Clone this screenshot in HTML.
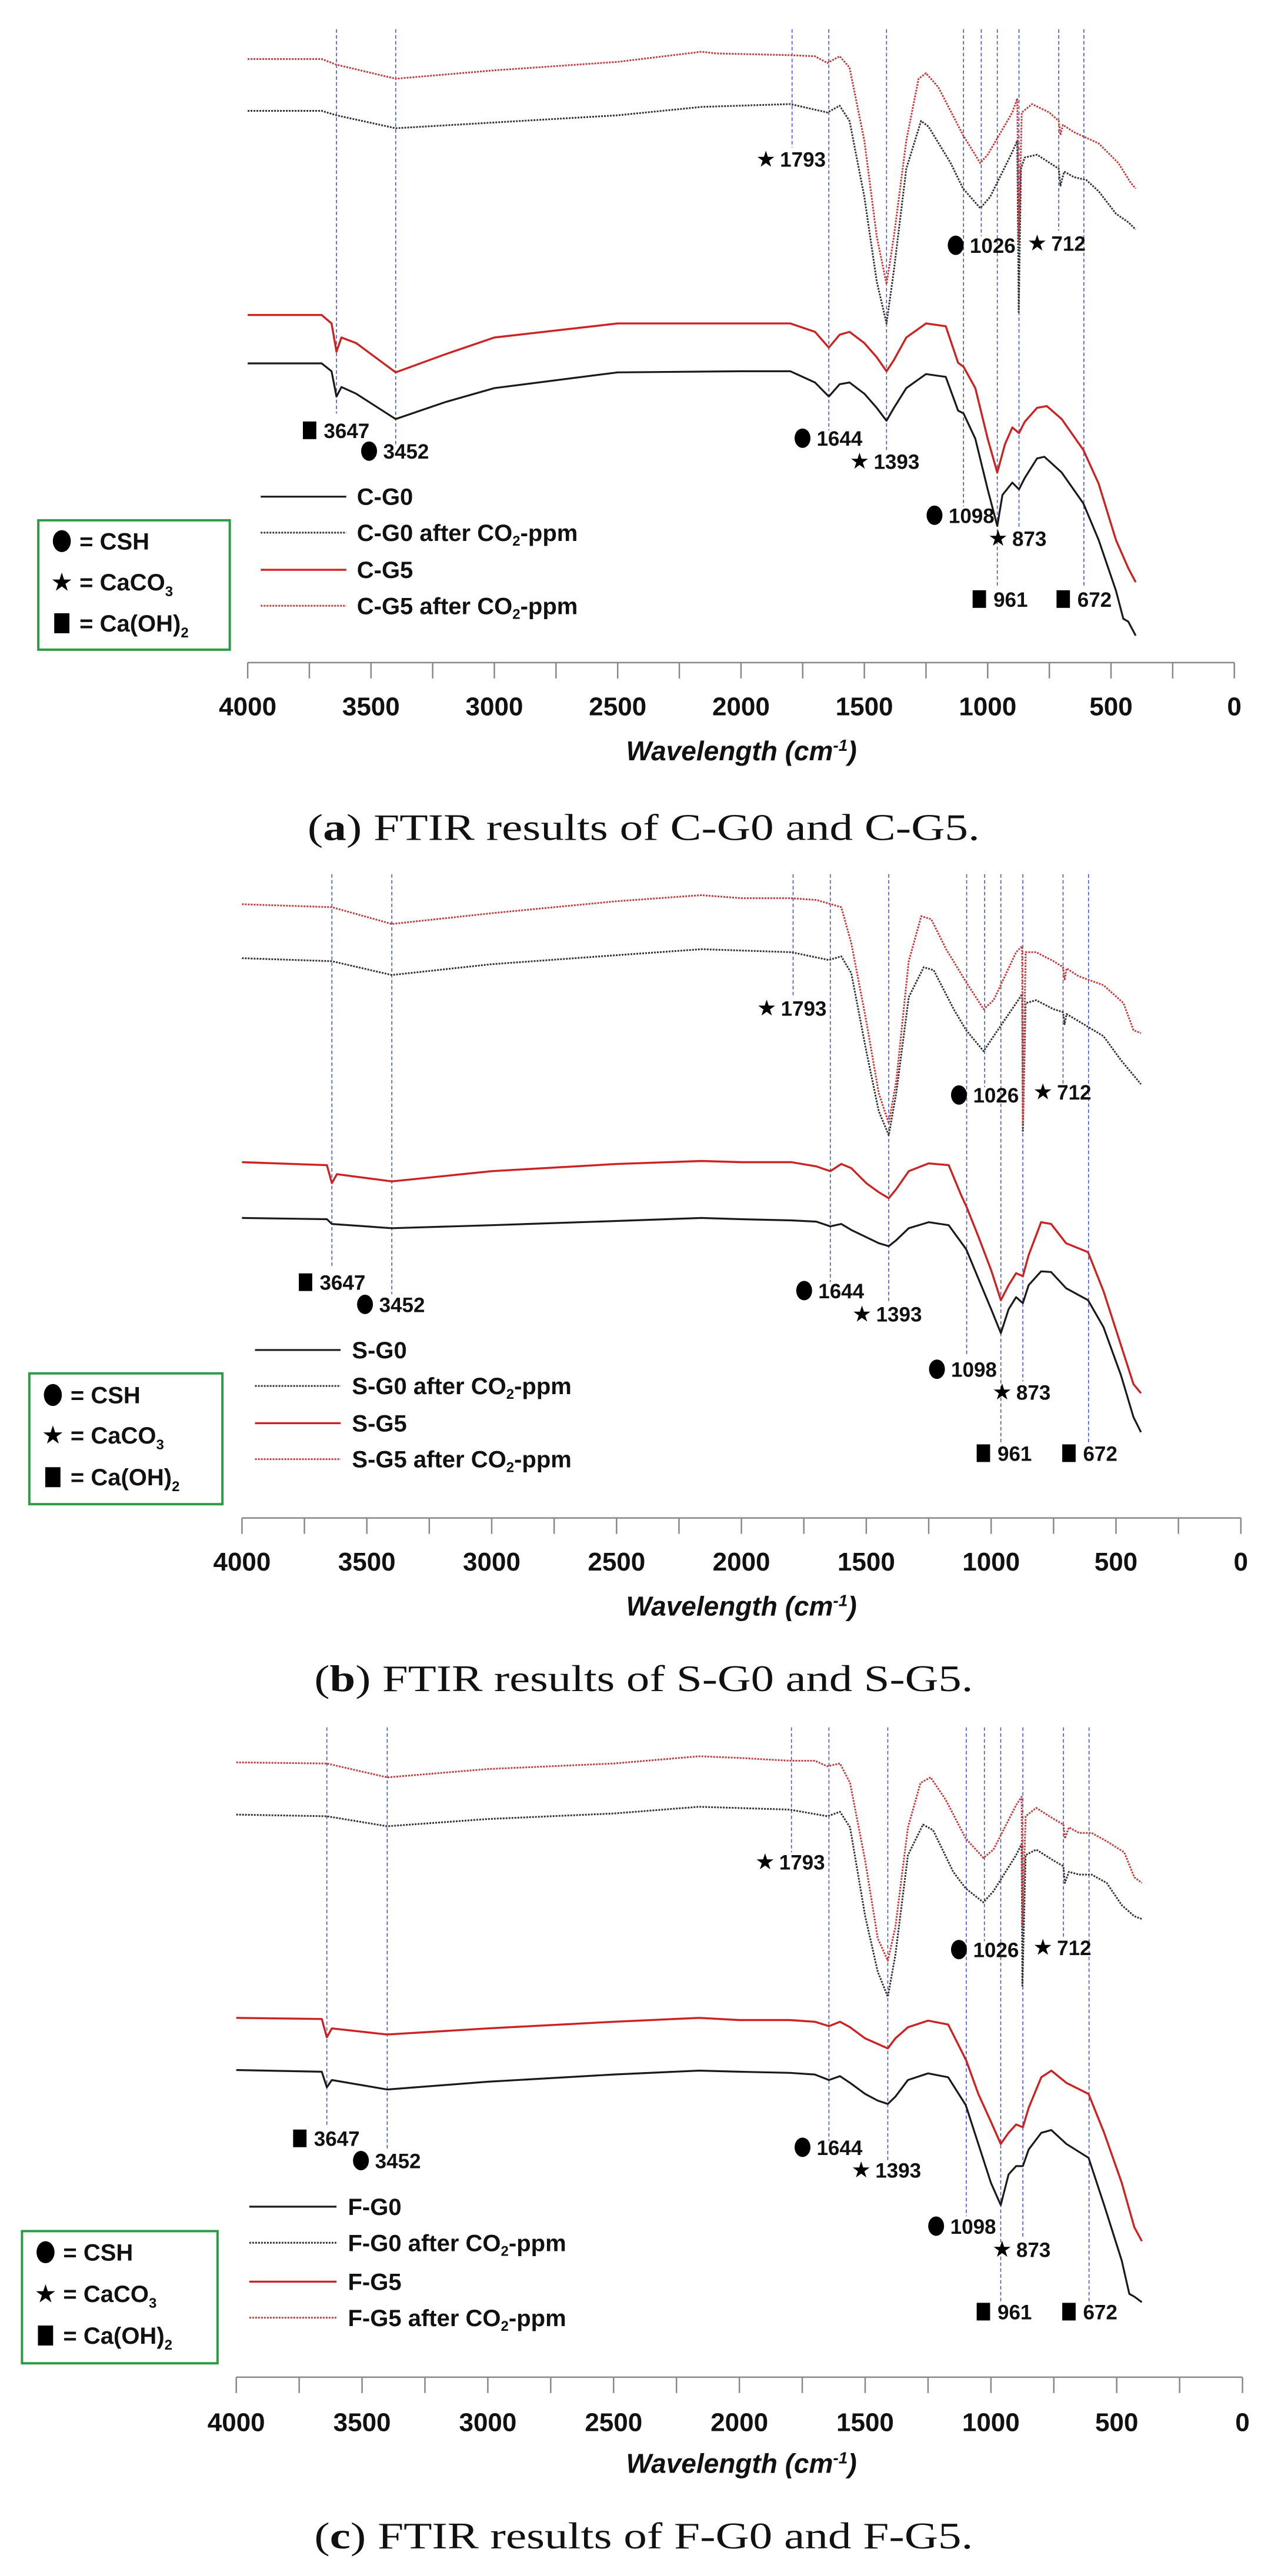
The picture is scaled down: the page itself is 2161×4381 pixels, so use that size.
<!DOCTYPE html>
<html><head><meta charset="utf-8"><style>
html,body{margin:0;padding:0;background:#fff}
svg{display:block}
</style></head><body>
<svg id="fig" xmlns="http://www.w3.org/2000/svg" width="2161" height="4381" viewBox="0 0 2161 4381">
<rect width="2161" height="4381" fill="#fff"/>
</svg>
<script>
// ---- data: wavenumber (cm-1) and relative signal offset (a.u., larger = lower on plot) ----
const tickLabels = [4000,3500,3000,2500,2000,1500,1000,500,0];
const minorTicks = [3750,3250,2750,2250,1750,1250,750,250];
const peakLines = [3640,3400,1793,1644,1410,1098,1026,961,873,712,610];

const aRedDot = [[4000,105],[3700,105],[3640,115],[3400,140],[3000,125],[2500,110],[2160,92],[2100,95],[1800,98],[1700,100],[1650,112],[1600,100],[1560,120],[1500,250],[1450,420],[1410,505],[1380,420],[1330,250],[1280,140],[1250,130],[1200,155],[1100,240],[1030,290],[1000,275],[900,200],[880,175],[874,430],[862,200],[820,185],[750,200],[712,215],[705,240],[695,222],[650,235],[550,255],[470,290],[420,325],[400,335]];
const aBlkDot = [[4000,197],[3700,197],[3640,205],[3400,228],[2500,205],[2160,190],[1800,185],[1650,200],[1600,188],[1560,215],[1500,350],[1450,500],[1410,575],[1380,480],[1330,300],[1270,215],[1240,225],[1150,290],[1100,335],[1030,370],[990,350],[900,270],[880,250],[874,555],[865,300],[850,280],[800,275],[712,300],[705,330],[690,305],[650,315],[600,320],[550,340],[480,380],[430,395],[400,408]];
const aRed = [[4000,560],[3700,560],[3660,575],[3640,625],[3620,600],[3560,610],[3400,662],[3200,630],[3000,600],[2500,575],[2000,575],[1800,575],[1700,590],[1644,618],[1600,595],[1560,590],[1500,610],[1450,635],[1410,660],[1380,640],[1330,600],[1250,575],[1170,580],[1120,645],[1098,652],[1050,690],[1000,780],[961,840],[930,790],[900,760],[873,770],[850,750],[800,725],[760,722],[700,745],[612,800],[550,860],[480,960],[430,1010],[400,1035]];
const aBlk = [[4000,646],[3700,646],[3660,660],[3640,705],[3620,688],[3560,700],[3400,745],[3200,715],[3000,690],[2500,662],[2000,660],[1800,660],[1700,680],[1644,705],[1600,683],[1560,680],[1500,700],[1450,725],[1410,748],[1380,725],[1330,690],[1250,665],[1170,670],[1120,730],[1098,735],[1050,780],[1000,870],[961,935],[940,880],[900,858],[873,870],[850,850],[800,815],[770,812],[700,840],[612,895],[550,960],[480,1050],[450,1100],[430,1105],[400,1130]];

const bRedDot = [[4000,135],[3640,140],[3400,168],[3000,150],[2500,130],[2160,120],[2000,125],[1800,125],[1700,128],[1640,135],[1600,140],[1560,200],[1500,330],[1450,450],[1410,500],[1380,430],[1330,230],[1280,155],[1240,160],[1180,210],[1100,265],[1030,310],[990,295],[900,215],[876,205],[873,500],[862,215],[820,215],[750,230],[712,240],[706,262],[698,242],[650,255],[550,270],[470,300],[430,345],[400,350]];
const bBlkDot = [[4000,225],[3640,230],[3400,253],[3000,235],[2500,220],[2160,210],[1800,215],[1650,228],[1600,222],[1560,250],[1500,380],[1450,480],[1410,520],[1380,450],[1330,290],[1270,240],[1230,245],[1150,310],[1100,345],[1030,380],[990,355],[900,300],[876,285],[873,515],[862,300],[820,295],[750,310],[712,315],[706,335],[698,318],[650,330],[550,355],[480,395],[430,420],[400,435]];
const bRed = [[4000,565],[3660,570],[3640,600],[3620,585],[3400,597],[3000,580],[2500,568],[2160,563],[2000,565],[1800,565],[1700,572],[1644,580],[1600,568],[1560,575],[1500,600],[1450,615],[1410,625],[1380,610],[1330,580],[1250,567],[1170,570],[1120,620],[1098,640],[1050,690],[1000,745],[961,795],[930,770],[900,750],[873,755],[850,720],[800,665],[760,668],[700,700],[612,715],[550,780],[480,870],[430,935],[400,950]];
const bBlk = [[4000,658],[3660,660],[3640,668],[3400,675],[3000,670],[2500,663],[2160,658],[2000,660],[1800,662],[1700,664],[1644,672],[1600,668],[1560,678],[1500,690],[1450,700],[1410,705],[1380,695],[1330,675],[1250,665],[1170,670],[1100,710],[1050,760],[1000,810],[961,850],[930,810],[900,790],[873,800],[850,770],[800,747],[760,748],[700,775],[612,795],[550,840],[480,920],[430,990],[400,1015]];

const cRedDot = [[4000,103],[3640,105],[3400,130],[3000,115],[2500,105],[2160,92],[2000,95],[1800,100],[1700,100],[1650,110],[1600,105],[1560,140],[1500,280],[1450,420],[1410,460],[1380,400],[1330,220],[1280,140],[1240,130],[1180,170],[1100,240],[1030,275],[990,260],[900,180],[878,165],[875,400],[862,200],[820,185],[750,205],[712,215],[706,240],[690,220],[650,230],[600,230],[540,245],[470,265],[430,310],[400,320]];
const cBlkDot = [[4000,197],[3640,200],[3400,218],[3000,205],[2500,195],[2160,183],[1800,188],[1650,200],[1600,192],[1560,220],[1500,380],[1450,480],[1410,525],[1380,450],[1330,270],[1270,215],[1230,225],[1150,300],[1100,330],[1030,355],[990,335],[900,270],[878,250],[875,505],[862,270],[820,260],[750,280],[712,290],[706,320],[690,300],[650,305],[600,305],[540,320],[480,360],[430,380],[400,385]];
const cRed = [[4000,563],[3660,565],[3640,598],[3620,582],[3400,593],[3000,582],[2500,570],[2160,563],[2000,567],[1800,567],[1700,570],[1644,578],[1600,570],[1560,580],[1500,600],[1450,610],[1410,618],[1380,600],[1330,580],[1250,568],[1170,575],[1120,620],[1098,640],[1050,700],[1000,750],[961,790],[930,770],[900,755],[873,760],[850,725],[800,670],[760,658],[700,680],[612,700],[550,770],[480,860],[430,940],[400,965]];
const cBlk = [[4000,657],[3660,660],[3640,688],[3620,675],[3400,692],[3000,678],[2500,665],[2160,658],[2000,660],[1800,662],[1700,665],[1644,675],[1600,668],[1560,680],[1500,700],[1450,712],[1410,718],[1380,705],[1330,675],[1250,663],[1170,670],[1100,720],[1050,790],[1000,860],[961,900],[930,845],[900,830],[873,830],[850,800],[800,770],[760,765],[700,790],[612,815],[550,900],[480,1000],[450,1060],[430,1065],[400,1075]];

const annoLabels = ['3647','3452','1793','1644','1393','1098','1026','712','873','961','672'];
const annoKinds = ['sq','ci','st','ci','st','ci','ci','st','st','sq','sq'];
</script>
<script>
const NS='http://www.w3.org/2000/svg';
const svg=document.getElementById('fig');
const K=2161/1560;
function mk(tag,attrs,parent){const e=document.createElementNS(NS,tag);for(const k in attrs)e.setAttribute(k,attrs[k]);(parent||svg).appendChild(e);return e;}

const panels=[
 {id:'a',oy:0,f:1500/1568,zx0:304,zx1:1515,axis:1178,tick:1255,title:1335,cap:1470,capW:1143,lineTop:52,
  lineEnd:[735,790,262,765,800,900,420,1045,940,410,1045],
  anno:[[380,765],[453,802],[940,283],[985,779],[1055,820],[1147,916],[1173,436],[1273,432],[1225,957],[1202,1065],[1305,1065]],
  leg:[883,947,1013,1077],legX:[320,425,438],box:[47,925,282,1155],boxE:[962,1035,1108],s:'C',series:[aBlk,aBlkDot,aRed,aRedDot]},
 {id:'b',oy:1400,f:1600/1568,zx0:297,zx1:1523,axis:1158,tick:1230,title:1305,cap:1425,capW:1120,lineTop:85,
  lineEnd:[740,785,290,765,800,885,440,1035,930,435,1035],
  anno:[[375,765],[448,802],[941,308],[987,779],[1058,818],[1150,910],[1177,453],[1280,448],[1230,948],[1207,1050],[1312,1050]],
  leg:[878,938,1000,1060],legX:[313,418,432],box:[36,917,273,1135],boxE:[953,1020,1090],s:'S',series:[bBlk,bBlkDot,bRed,bRedDot]},
 {id:'c',oy:2900,f:1481/1568,zx0:290,zx1:1525,axis:1210,tick:1290,title:1365,cap:1495,capW:1120,lineTop:40,
  lineEnd:[760,800,265,785,820,920,425,1075,960,420,1075],
  anno:[[368,780],[443,820],[939,282],[985,796],[1057,837],[1149,938],[1177,440],[1280,436],[1230,980],[1207,1092],[1312,1092]],
  leg:[903,968,1038,1103],legX:[306,413,427],box:[27,947,267,1185],boxE:[985,1060,1135],s:'F',series:[cBlk,cBlkDot,cRed,cRedDot]}
];

function symbol(kind,cx,cy,sz,g){
  let e;
  if(kind==='ci'){e=mk('ellipse',{cx:cx,cy:cy,rx:sz*0.45,ry:sz*0.55,fill:'#000'},g);}
  else if(kind==='sq'){e=mk('rect',{x:cx-sz*0.38,y:cy-sz*0.5,width:sz*0.76,height:sz,fill:'#000'},g);}
  else{e=mk('text',{x:cx,y:cy+sz*0.42,'text-anchor':'middle','font-size':sz*1.25,'font-family':'DejaVu Sans, sans-serif',fill:'#000'},g);e.textContent='★';}
  return e;
}

panels.forEach(p=>{
  const X=z=>z*K, Y=z=>p.oy+z*p.f;
  const xS=w=>X(p.zx0)+(4000-w)/4000*(X(p.zx1)-X(p.zx0));
  const yS=v=>Y(v);
  const g=mk('g',{});
  
  
  peakLines.forEach((w,i)=>{
    const l=mk('line',{x1:xS(w),x2:xS(w),y1:Y(p.lineTop),y2:Y(p.lineEnd[i]),stroke:'#4455bb','stroke-width':1.6,'stroke-dasharray':'6 4'},g);
    
    
  });
  const styles=[{c:'#1a1a1a',w:3.2,d:''},{c:'#333',w:3,d:'3 2'},{c:'#cc2222',w:3.4,d:''},{c:'#c43c3c',w:3,d:'3 2'}];
  const names=['g0','g0-after-co2','g5','g5-after-co2'];
  p.series.forEach((s,i)=>{
    const pts=s.map(d=>xS(d[0]).toFixed(1)+','+yS(d[1]).toFixed(1)).join(' ');
    const pl=mk('polyline',{points:pts,fill:'none',stroke:styles[i].c,'stroke-width':styles[i].w,'stroke-dasharray':styles[i].d,'stroke-linejoin':'round'},g);
    
    
  });
  p.anno.forEach((a,i)=>{
    const ag=mk('g',{},g);
    
    
    symbol(annoKinds[i],X(a[0]),Y(a[1]),30,ag);
    const t=mk('text',{x:X(a[0])+24,y:Y(a[1])+13,'font-size':35,'font-weight':'bold','font-family':'Liberation Sans Narrow, Liberation Sans, sans-serif',fill:'#111'},ag);
    t.textContent=annoLabels[i];
  });
  const lg=mk('g',{},g);
  
  
  const legTxt=[p.s+'-G0',p.s+'-G0 after CO',p.s+'-G5',p.s+'-G5 after CO'];
  p.leg.forEach((ly,i)=>{
    mk('line',{x1:X(p.legX[0]),x2:X(p.legX[1]),y1:Y(ly),y2:Y(ly),stroke:styles[i].c,'stroke-width':styles[i].w,'stroke-dasharray':styles[i].d},lg);
    const t=mk('text',{x:X(p.legX[2]),y:Y(ly)+14,'font-size':40,'font-weight':'bold','font-family':'Liberation Sans, sans-serif',fill:'#111'},lg);
    
    
    t.textContent=legTxt[i];
    if(i%2===1){const s1=mk('tspan',{'font-size':24,dy:8},t);s1.textContent='2';const s2=mk('tspan',{dy:-8},t);s2.textContent='-ppm';}
  });
  const kb=mk('g',{},g);
  
  
  mk('rect',{x:X(p.box[0]),y:Y(p.box[1]),width:X(p.box[2])-X(p.box[0]),height:Y(p.box[3])-Y(p.box[1]),fill:'none',stroke:'#2e9a45','stroke-width':4},kb);
  const kinds=['ci','st','sq'];
  const ktxt=['= CSH','= CaCO','= Ca(OH)'];
  p.boxE.forEach((ey,i)=>{
    symbol(kinds[i],X(p.box[0])+40,Y(ey),34,kb);
    const t=mk('text',{x:X(p.box[0])+70,y:Y(ey)+14,'font-size':40,'font-weight':'bold','font-family':'Liberation Sans, sans-serif',fill:'#111'},kb);
    t.textContent=ktxt[i];
    if(i>0){const s=mk('tspan',{'font-size':24,dy:10},t);s.textContent=i===1?'3':'2';}
  });
  const ax=mk('g',{},g);
  
  
  const ay=Y(p.axis);
  mk('line',{x1:xS(4000),x2:xS(0),y1:ay,y2:ay,stroke:'#888','stroke-width':2.5},ax);
  tickLabels.concat(minorTicks).forEach(w=>{mk('line',{x1:xS(w),x2:xS(w),y1:ay,y2:ay+27,stroke:'#888','stroke-width':2.5},ax);});
  tickLabels.forEach(w=>{
    const t=mk('text',{x:xS(w),y:Y(p.tick)+16,'text-anchor':'middle','font-size':44,'font-weight':'bold','font-family':'Liberation Sans, sans-serif',fill:'#111'},ax);
    
    
    t.textContent=w;
  });
  const tt=mk('text',{x:X(910),y:Y(p.title)+16,'text-anchor':'middle','font-size':46,'font-weight':'bold','font-style':'italic','font-family':'Liberation Sans, sans-serif',fill:'#111'},g);
  
  
  tt.textContent='Wavelength (cm';
  const sup=mk('tspan',{'font-size':28,dy:-16},tt);sup.textContent='-1';
  const cl=mk('tspan',{dy:16},tt);cl.textContent=')';
  const cap=mk('text',{x:X(790),y:Y(p.cap)+22,'text-anchor':'middle','font-size':64,'font-family':'Liberation Serif, serif',fill:'#111',textLength:p.capW,lengthAdjust:'spacingAndGlyphs'},g);
  
  
  const c1=mk('tspan',{},cap);c1.textContent='(';
  const c2=mk('tspan',{'font-weight':'bold'},cap);c2.textContent=p.id;
  const c3=mk('tspan',{},cap);c3.textContent=') FTIR results of '+p.s+'-G0 and '+p.s+'-G5.';
});
</script>
</body></html>
